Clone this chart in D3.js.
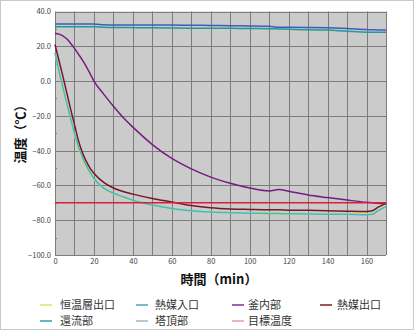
<!DOCTYPE html>
<html>
<head>
<meta charset="utf-8">
<script src="https://cdn.jsdelivr.net/npm/d3@7/dist/d3.min.js"></script>
<style>
  html, body { margin: 0; padding: 0; background: #fff; }
  svg { display: block; }
  text { font-family: "Noto Sans CJK JP", "Noto Sans", sans-serif; }
</style>
</head>
<body>
<svg id="chart" width="414" height="330"></svg>
<script>
// Sampling times (min)
const times = [0, 2, 4, 6, 8, 10, 12, 14, 16, 18, 20, 25, 30, 35, 40, 50, 60, 70, 80, 90, 100, 110, 115, 120, 130, 140, 150, 160, 163, 166, 170];

// Measured temperatures (°C) at each sampling time
const bathOut   = [16.0, 5.2, -4.5, -13.5, -22.5, -31, -38.5, -44.5, -49.3, -53.2, -56.5, -61.8, -64.8, -66.8, -68.7, -71.4, -73.2, -74.5, -75.3, -75.7, -76.0, -75.7, -75.8, -76.3, -76.4, -76.5, -76.3, -76.4, -76.3, -74.2, -71.6];
const mediumIn  = [31.3, 31.3, 31.3, 31.3, 31.2, 31.2, 31.2, 31.2, 31.2, 31.2, 31.2, 30.9, 30.8, 30.8, 30.7, 30.6, 30.5, 30.4, 30.3, 30.3, 30.2, 30.1, 30.0, 29.8, 29.5, 29.3, 28.6, 28.1, 28.0, 28.0, 28.0];
const vessel    = [27.5, 27.0, 26.0, 24.3, 21.8, 18.8, 15.5, 12.2, 8.5, 4.3, 0, -7.5, -14.5, -21, -26.5, -36.5, -44.5, -50.5, -55.2, -58.8, -61.5, -63.2, -62.3, -63.3, -65.5, -67.0, -68.4, -69.7, -70.0, -70.3, -70.5];
const mediumOut = [21.0, 12.0, 3.0, -6.5, -16.0, -25.0, -34.0, -41.0, -46.0, -50.0, -53.0, -58.3, -61.5, -63.5, -65.0, -67.5, -69.5, -71.5, -72.8, -73.5, -73.8, -74.0, -74.0, -74.2, -74.3, -74.5, -74.8, -75.0, -74.6, -72.5, -70.3];
const reflux    = [16.5, 6.0, -3.5, -12.5, -21.5, -30.0, -37.5, -43.5, -48.5, -52.5, -56.0, -61.5, -64.5, -66.5, -68.5, -71.3, -73.2, -74.5, -75.3, -75.7, -76.0, -76.1, -76.2, -76.3, -76.4, -76.5, -76.6, -76.8, -76.6, -74.5, -72.0];
const towerTop  = [32.8, 32.8, 32.8, 32.8, 32.8, 32.8, 32.8, 32.8, 32.8, 32.8, 32.8, 32.4, 32.3, 32.3, 32.3, 32.2, 32.2, 32.1, 32.0, 31.8, 31.7, 31.5, 30.9, 30.9, 30.8, 30.6, 30.2, 29.6, 29.5, 29.4, 29.4];
const target    = times.map(() => -70);

// Series names (legend order) and tick labels
const seriesNames = ["恒温層出口", "熱媒入口", "釜内部", "熱媒出口", "還流部", "塔頂部", "目標温度"];
const xTicks = [0, 20, 40, 60, 80, 100, 120, 140, 160];
const yTicks = [40, 20, 0, -20, -40, -60, -80, -100];

const series = [
  { name: seriesNames[0], values: bathOut,   line: "#e6e03a", key: "#e8e890" },
  { name: seriesNames[1], values: mediumIn,  line: "#1f9c96", key: "#78bcc4" },
  { name: seriesNames[2], values: vessel,    line: "#7a1a86", key: "#a460b4" },
  { name: seriesNames[3], values: mediumOut, line: "#7a1628", key: "#a45458" },
  { name: seriesNames[4], values: reflux,    line: "#3cbcc8", key: "#66b8c0" },
  { name: seriesNames[5], values: towerTop,  line: "#3e5cc0", key: "#b6cad2" },
  { name: seriesNames[6], values: target,    line: "#d8203c", key: "#e6b6c6" }
];

const svg = d3.select("#chart");

// Outer frame
svg.append("rect").attr("x", 0.5).attr("y", 0.5).attr("width", 413).attr("height", 329)
  .attr("fill", "#fff").attr("stroke", "#c8c8c8");

const plot = { left: 55, right: 386, top: 11.5, bottom: 255 };

const x = d3.scaleLinear().domain([0, 170]).range([plot.left, plot.right]);
const y = d3.scaleLinear().domain([-100, 40]).range([plot.bottom, plot.top]);

// Plot background
svg.append("rect")
  .attr("x", plot.left).attr("y", plot.top)
  .attr("width", plot.right - plot.left).attr("height", plot.bottom - plot.top)
  .attr("fill", "#cbcbcb");

// Grid
const grid = svg.append("g").attr("stroke", "#7c7c7c").attr("stroke-width", 1);
d3.range(0, 171, 10).forEach(v => {
  const px = Math.round(x(v)) + 0.5;
  grid.append("line").attr("x1", px).attr("x2", px).attr("y1", plot.top).attr("y2", plot.bottom);
});
d3.range(-100, 41, 20).forEach(v => {
  const py = Math.round(y(v)) + 0.5;
  grid.append("line").attr("x1", plot.left).attr("x2", plot.right).attr("y1", py).attr("y2", py);
});

// Minor ticks along the left edge
d3.range(-90, 40, 20).forEach(v => {
  const py = Math.round(y(v)) + 0.5;
  grid.append("line").attr("x1", plot.left).attr("x2", plot.left + 2).attr("y1", py).attr("y2", py);
});

// Axes (labels only)
const yAxis = svg.append("g").attr("transform", `translate(${plot.left - 4},0)`)
  .call(d3.axisLeft(y).tickValues(yTicks).tickFormat(d3.format(".1f")).tickSize(0).tickPadding(0));
const xAxis = svg.append("g").attr("transform", `translate(0,${plot.bottom + 2})`)
  .call(d3.axisBottom(x).tickValues(xTicks).tickFormat(d3.format("d")).tickSize(0).tickPadding(0));
[yAxis, xAxis].forEach(a => {
  a.select(".domain").remove();
  a.selectAll("text").attr("fill", "#444").attr("font-size", "7.5px");
});
xAxis.selectAll("text").attr("dy", "0.9em");

// Series lines
const line = d3.line()
  .x((d, i) => x(times[i]))
  .y(d => y(d))
  .curve(d3.curveMonotoneX);

svg.append("g").selectAll("path").data(series).join("path")
  .attr("d", d => line(d.values))
  .attr("fill", "none")
  .attr("stroke", d => d.line)
  .attr("stroke-width", 1.5);

// Axis titles
svg.append("text")
  .attr("x", 219).attr("y", 284)
  .attr("text-anchor", "middle")
  .attr("font-size", "13px").attr("font-weight", "bold").attr("fill", "#111")
  .text("時間（min）");

svg.append("text")
  .attr("transform", "translate(25,131) rotate(-90)")
  .attr("text-anchor", "middle")
  .attr("font-size", "13px").attr("font-weight", "bold").attr("fill", "#111")
  .text("温度（℃）");

// Legend
const colX = [[40, 60], [136, 155], [232, 248], [320, 337]];
const rowY = [305, 321];
const legend = svg.append("g");
series.forEach((s, i) => {
  const c = colX[i % 4], r = rowY[Math.floor(i / 4)];
  legend.append("line")
    .attr("x1", c[0]).attr("x2", c[0] + 12).attr("y1", r).attr("y2", r)
    .attr("stroke", s.key).attr("stroke-width", 2);
  legend.append("text")
    .attr("x", c[1]).attr("y", r).attr("dy", "0.36em")
    .attr("font-size", "11px").attr("fill", "#333")
    .text(s.name);
});
</script>
</body>
</html>
